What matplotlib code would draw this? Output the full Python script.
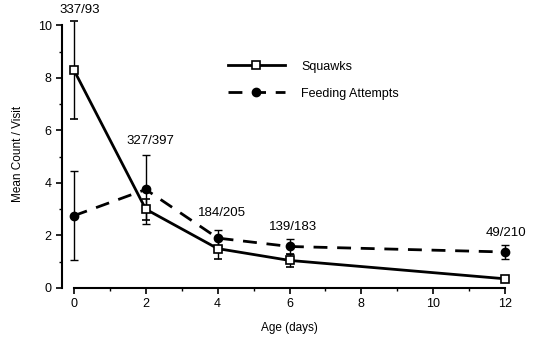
import matplotlib
matplotlib.use("Agg")
import matplotlib.pyplot as plt
from matplotlib.lines import Line2D

plt.rcParams['font.family'] = ['Liberation Sans', 'DejaVu Sans']

age = [0, 2, 4, 6, 12]
squawks = [8.3, 3.0, 1.5, 1.05, 0.35]
squawks_err = [1.85, 0.4, 0.4, 0.25, 0.05]
feeding = [2.75, 3.75, 1.9, 1.58, 1.37]
feeding_err = [1.7, 1.3, 0.32, 0.28, 0.27]
ann_labels = ["337/93", "327/397", "184/205", "139/183", "49/210"]
ann_x = [0.15, 2.14, 4.13, 6.1, 12.03]
ann_y = [10.57, 5.59, 2.85, 2.33, 2.1]

fig = plt.figure(figsize=(5.38, 3.41), dpi=100)
ax = fig.add_axes([62/538, 53/341, 454/538, 268/341])

feed_style = dict(color='black', lw=2, ls=(0, (5, 3.5)), marker='o', ms=6,
                  mfc='black', mec='black')
squawk_style = dict(color='black', lw=2, ls='-', marker='s', ms=6,
                    mfc='white', mec='black', mew=1.2)

ax.errorbar(age, feeding, yerr=feeding_err, ecolor='black', elinewidth=1,
            capsize=3, capthick=1, clip_on=False, zorder=2, **feed_style)
ax.errorbar(age, squawks, yerr=squawks_err, ecolor='black', elinewidth=1,
            capsize=3, capthick=1, clip_on=False, zorder=3, **squawk_style)

for t, x, y in zip(ann_labels, ann_x, ann_y):
    ax.text(x, y, t, ha='center', va='center', fontsize=9.5, clip_on=False)

ax.set_xlim(-0.33, 12.3)
ax.set_ylim(0, 10.2)
ax.spines['top'].set_visible(False)
ax.spines['right'].set_visible(False)
ax.spines['left'].set_bounds(0, 10)
ax.spines['bottom'].set_bounds(0, 12)
ax.spines['left'].set_linewidth(1.5)
ax.spines['bottom'].set_linewidth(1.5)
ax.set_xticks([0, 2, 4, 6, 8, 10, 12])
ax.set_xticks(range(1, 12, 2), minor=True)
ax.set_yticks([0, 2, 4, 6, 8, 10])
ax.set_yticks([1, 3, 5, 7, 9], minor=True)
ax.tick_params(which='major', length=4, width=1.2, labelsize=9, direction='out')
ax.tick_params(which='minor', length=2.5, width=1, direction='out')
ax.set_xlabel('Age (days)', fontsize=8.5, labelpad=8)
ax.set_ylabel('Mean Count / Visit', fontsize=8.5, labelpad=10)

handles = [Line2D([], [], **squawk_style), Line2D([], [], **feed_style)]
ax.legend(handles, ['Squawks', 'Feeding Attempts'], loc='upper left',
          bbox_to_anchor=(0.34, 0.89), frameon=False, fontsize=9,
          handlelength=4.6, handletextpad=1.3, labelspacing=1.2)

fig.savefig('out.png', dpi=100)
